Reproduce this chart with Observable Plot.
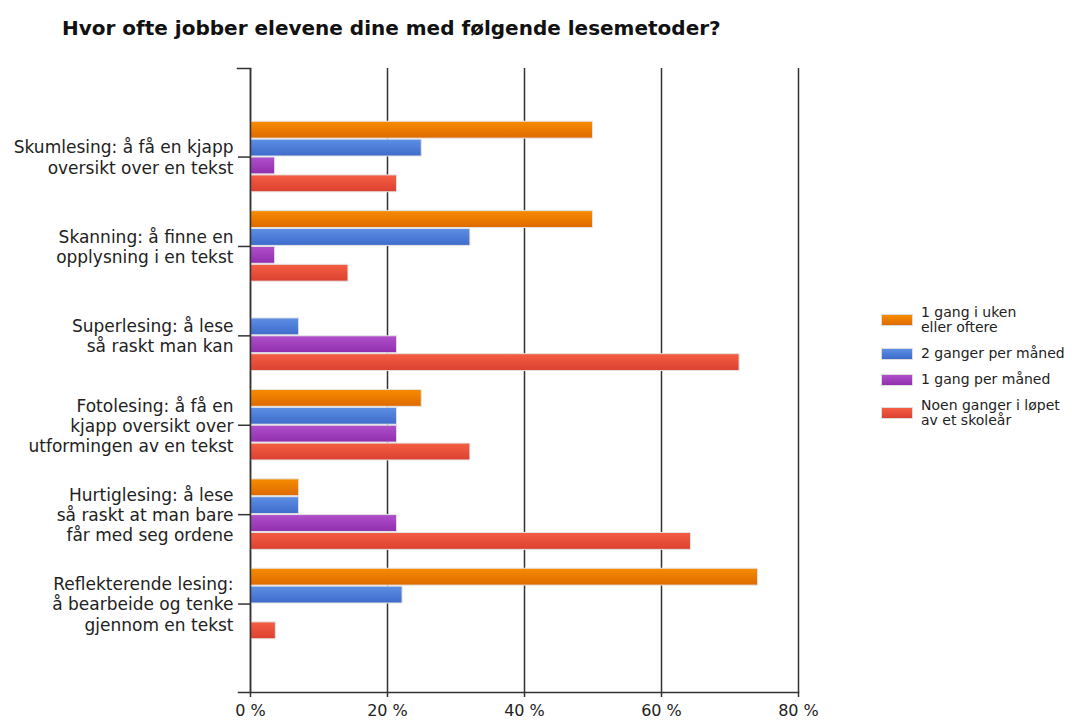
<!DOCTYPE html>
<html><head><meta charset="utf-8">
<script src="https://cdn.jsdelivr.net/npm/d3@7"></script>
<script src="https://cdn.jsdelivr.net/npm/@observablehq/plot@0.6"></script>
<style>
body{margin:0;background:#fff;font-family:"DejaVu Sans",sans-serif;}
#wrap{position:relative;width:1072px;height:720px;overflow:hidden;}
#title{height:50px;box-sizing:border-box;padding:17px 0 0 62px;font-weight:bold;font-size:20px;line-height:22px;color:#111;white-space:nowrap;}
#chart svg{display:block;}
#legend{position:absolute;left:881px;top:305px;font-size:14px;line-height:15px;color:#222;}
.item{display:flex;align-items:center;margin-bottom:11px;}
.sw{width:32px;height:12px;margin-right:8px;border:1px solid #ddd;box-sizing:border-box;flex:none;}
.lt{white-space:pre-line;}
</style></head><body>
<div id="wrap"><div id="title"></div><div id="chart"></div><div id="legend"></div></div>
<script>
const title = "Hvor ofte jobber elevene dine med følgende lesemetoder?";
const categories = [
  "Skumlesing: å få en kjapp oversikt over en tekst",
  "Skanning: å finne en opplysning i en tekst",
  "Superlesing: å lese så raskt man kan",
  "Fotolesing: å få en kjapp oversikt over utformingen av en tekst",
  "Hurtiglesing: å lese så raskt at man bare får med seg ordene",
  "Reflekterende lesing: å bearbeide og tenke gjennom en tekst"
];
const categoryLabels = [
  "Skumlesing: å få en kjapp\noversikt over en tekst",
  "Skanning: å finne en\nopplysning i en tekst",
  "Superlesing: å lese\nså raskt man kan",
  "Fotolesing: å få en\nkjapp oversikt over\nutformingen av en tekst",
  "Hurtiglesing: å lese\nså raskt at man bare\nfår med seg ordene",
  "Reflekterende lesing:\nå bearbeide og tenke\ngjennom en tekst"
];
const seriesNames = ["1 gang i uken eller oftere", "2 ganger per måned", "1 gang per måned", "Noen ganger i løpet av et skoleår"];
const seriesLegendLabels = ["1 gang i uken\neller oftere", "2 ganger per måned", "1 gang per måned", "Noen ganger i løpet\nav et skoleår"];
const weekly       = [50, 50, 0, 25, 7.1, 74.1];
const twiceMonthly = [25, 32.1, 7.1, 21.4, 7.1, 22.2];
const monthly      = [3.6, 3.6, 21.4, 21.4, 21.4, 0];
const yearly       = [21.4, 14.3, 71.4, 32.1, 64.3, 3.7];
const xTicks = [0, 20, 40, 60, 80];
const colorsTop    = ["#f78c00", "#5d8fe4", "#b04fcb", "#f45e43"];
const colorsBottom = ["#de6a00", "#3e6bcb", "#9130ae", "#dc4130"];

document.getElementById("title").textContent = title;

const seriesValues = [weekly, twiceMonthly, monthly, yearly];
const rows = [];
categories.forEach((c, i) => seriesValues.forEach((vals, s) => {
  rows.push({category: c, series: seriesNames[s], s, key: `${i}-${s}`, value: vals[i]});
}));
const yDomain = [];
categories.forEach((c, i) => {
  for (let s = 0; s < seriesNames.length; s++) yDomain.push(`${i}-${s}`);
  if (i < categories.length - 1) yDomain.push(`${i}-gap`);
});
const labelRows = categories.map((c, i) => ({label: categoryLabels[i], key: `${i}-1`}));

const W = 1072, ML = 250, MR = 274;
const chart = Plot.plot({
  width: W, height: 670,
  marginTop: 18, marginBottom: 28, marginLeft: ML, marginRight: MR,
  style: {fontFamily: "DejaVu Sans", fontSize: "16px", color: "#222", background: "white"},
  x: {domain: [0, 80], axis: null},
  y: {domain: yDomain, type: "band", paddingInner: 0, paddingOuter: 2.95, round: false, axis: null},
  marks: [
    Plot.ruleX(xTicks, {stroke: "#333", strokeWidth: 1.5}),
    Plot.barX(rows.filter(d => d.value > 0), {
      y: "key", x: "value", fill: d => `url(#grad${d.s})`,
      stroke: "#e4e4e4", strokeWidth: 1, insetTop: 0.5, insetBottom: 0.5
    }),
    Plot.ruleX([0], {stroke: "#333", strokeWidth: 1.5}),
    Plot.frame({anchor: "bottom", insetLeft: -12, stroke: "#333", strokeWidth: 1.5}),
    Plot.frame({anchor: "top", insetLeft: -13, insetRight: W - ML - MR, stroke: "#333", strokeWidth: 1.5}),
    Plot.ruleY(labelRows, {y: "key", x1: 0, x2: 0, dy: 9, insetLeft: -12, stroke: "#333", strokeWidth: 1.5}),
    Plot.text(labelRows, {y: "key", x: 0, text: "label", textAnchor: "end", dx: -17, dy: 9, fontSize: 17, lineHeight: 1.18, fill: "#222"}),
    Plot.axisX(xTicks, {tickFormat: d => d + " %", tickSize: 5, tickPadding: 7, fontSize: 16, label: null, color: "#222", stroke: "#333", strokeWidth: 1.5})
  ]
});
document.getElementById("chart").appendChild(chart);

const svg = chart.tagName.toLowerCase() === "svg" ? chart : chart.querySelector("svg");
const defs = d3.select(svg).insert("defs", ":first-child");
colorsTop.forEach((c, i) => {
  const g = defs.append("linearGradient").attr("id", `grad${i}`).attr("x1", 0).attr("y1", 0).attr("x2", 0).attr("y2", 1);
  g.append("stop").attr("offset", "0%").attr("stop-color", c);
  g.append("stop").attr("offset", "100%").attr("stop-color", colorsBottom[i]);
});

const legend = document.getElementById("legend");
seriesLegendLabels.forEach((lab, i) => {
  const item = document.createElement("div");
  item.className = "item";
  const sw = document.createElement("div");
  sw.className = "sw";
  sw.style.background = `linear-gradient(${colorsTop[i]}, ${colorsBottom[i]})`;
  const t = document.createElement("div");
  t.className = "lt";
  t.textContent = lab;
  item.appendChild(sw); item.appendChild(t);
  legend.appendChild(item);
});
</script>
</body></html>
